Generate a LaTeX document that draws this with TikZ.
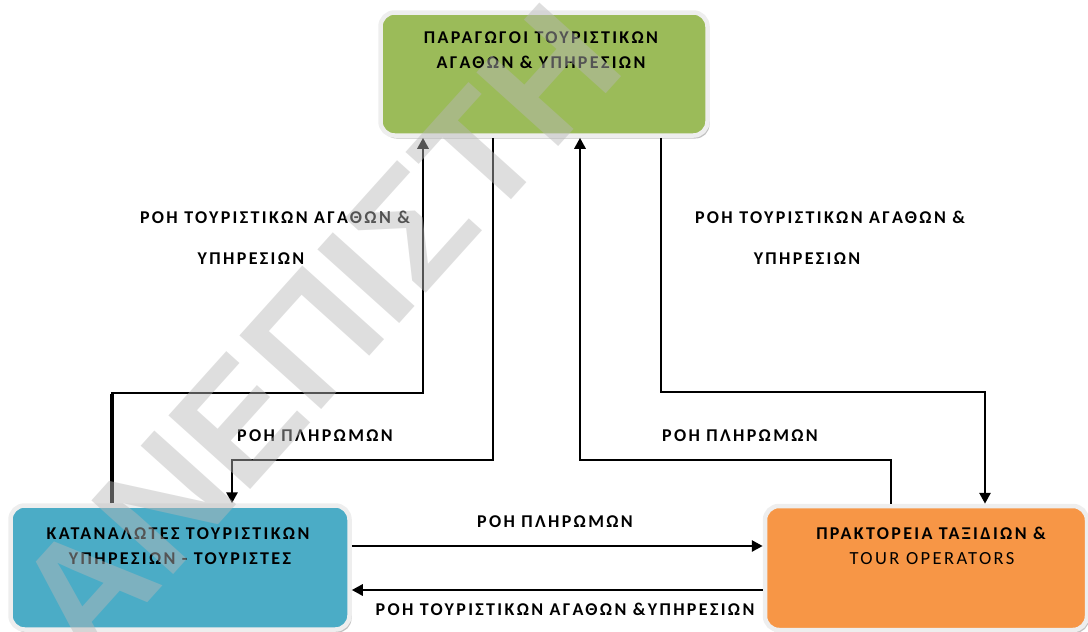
\documentclass[tikz,border=0pt]{standalone}
\usepackage{fontspec}
\setmainfont{Carlito}
\newfontfamily\lblfont{Carlito}[LetterSpace=13]
\newfontfamily\wmfont{Liberation Sans}
\usetikzlibrary{arrows.meta,shadows}

\definecolor{prodgreen}{HTML}{9BBB59}
\definecolor{consblue}{HTML}{4BACC6}
\definecolor{agentorange}{HTML}{F79646}
\definecolor{rimgray}{HTML}{EEEEEE}
\definecolor{wmgray}{RGB}{184,184,184}

\tikzset{
  box/.style={draw=rimgray, line width=4.5pt, rounded corners=14pt, inner sep=0pt,
    drop shadow={shadow xshift=2pt, shadow yshift=-3pt, fill=black!40, opacity=0.6}},
  boxtext/.style={anchor=base, inner sep=0pt, font=\lblfont\bfseries\fontsize{18}{18}\selectfont},
  lbl/.style={anchor=base, inner sep=0pt, font=\lblfont\bfseries\fontsize{18}{18}\selectfont},
  conn/.style={line width=2.8pt, -{Triangle[width=11pt,length=11pt]}},
}

\begin{document}
\begin{tikzpicture}[x=1pt,y=-1pt]
\useasboundingbox (0,0) rectangle (1088,632);

% the three parties
\node[box, fill=prodgreen, minimum width=327pt, minimum height=123pt] (prod) at (544,74) {};
\node[box, fill=consblue, minimum width=339pt, minimum height=124pt] (cons) at (180,567.5) {};
\node[box, fill=agentorange, minimum width=322pt, minimum height=124pt] (agent) at (926,568) {};

\node[boxtext] (prod1) at (541,43) {ΠΑΡΑΓΩΓΟΙ ΤΟΥΡΙΣΤΙΚΩΝ};
\node[boxtext] (prod2) at (541,68) {ΑΓΑΘΩΝ \& ΥΠΗΡΕΣΙΩΝ};
\node[boxtext] (cons1) at (178,539) {ΚΑΤΑΝΑΛΩΤΕΣ ΤΟΥΡΙΣΤΙΚΩΝ};
\node[boxtext] (cons2) at (180,564) {ΥΠΗΡΕΣΙΩΝ - ΤΟΥΡΙΣΤΕΣ};
\node[boxtext] (agent1) at (931,539) {ΠΡΑΚΤΟΡΕΙΑ ΤΑΞΙΔΙΩΝ \&};
\node[boxtext, font=\lblfont\fontsize{18.5}{18.5}\selectfont] (agent2) at (932,564) {TOUR OPERATORS};

% bend points of the connectors
\coordinate (a1) at (112,393);
\coordinate (a2) at (423,393);
\coordinate (b1) at (493,460);
\coordinate (b2) at (232,460);
\coordinate (c1) at (891,460);
\coordinate (c2) at (580,460);
\coordinate (d1) at (661,392);
\coordinate (d2) at (985,392);
\coordinate (e1) at (0,546);
\coordinate (f1) at (0,590);

% flows
\draw[conn] (cons.north -| a1) -- (a1) -- (a2) -- (prod.south -| a2);
\draw[line width=4.5pt] (cons.north -| a1) -- ([yshift=-1.2pt]a1);
\draw[conn] (prod.south -| b1) -- (b1) -- (b2) -- (cons.north -| b2);
\draw[conn] (agent.north -| c1) -- (c1) -- (c2) -- (prod.south -| c2);
\draw[conn] (prod.south -| d1) -- (d1) -- (d2) -- (agent.north -| d2);
\draw[conn] (cons.east |- e1) -- (agent.west |- e1);
\draw[conn] (agent.west |- f1) -- (cons.east |- f1);

% flow labels
\node[lbl] (l1) at (275,223) {ΡΟΗ ΤΟΥΡΙΣΤΙΚΩΝ ΑΓΑΘΩΝ \&};
\node[lbl] (l1b) at (251,264) {ΥΠΗΡΕΣΙΩΝ};
\node[lbl] (l2) at (830,223) {ΡΟΗ ΤΟΥΡΙΣΤΙΚΩΝ ΑΓΑΘΩΝ \&};
\node[lbl] (l2b) at (807,264) {ΥΠΗΡΕΣΙΩΝ};
\node[lbl] (l3) at (315,441) {ΡΟΗ ΠΛΗΡΩΜΩΝ};
\node[lbl] (l4) at (740,441) {ΡΟΗ ΠΛΗΡΩΜΩΝ};
\node[lbl] (l5) at (555,527) {ΡΟΗ ΠΛΗΡΩΜΩΝ};
\node[lbl] (l6) at (565,615) {ΡΟΗ ΤΟΥΡΙΣΤΙΚΩΝ ΑΓΑΘΩΝ \&ΥΠΗΡΕΣΙΩΝ};

% watermark
\begin{scope}
\clip (0,0) rectangle (1088,632);
\node[rotate=48, text=wmgray, opacity=0.46, inner sep=0pt,
  font=\wmfont\bfseries\fontsize{160}{160}\selectfont] (wm) at (318,332) {ΑΝΕΠΙΣΤΗ};
\end{scope}
\end{tikzpicture}
\end{document}
